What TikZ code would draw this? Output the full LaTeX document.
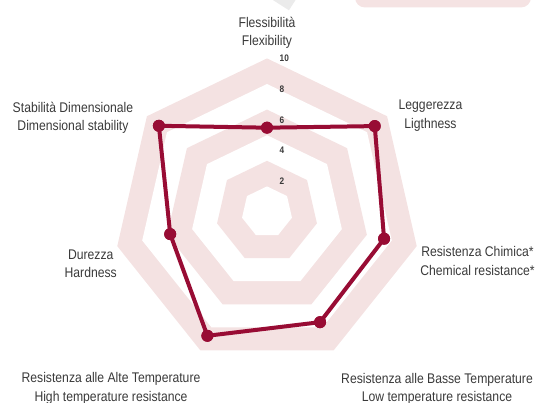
\documentclass[tikz,border=0pt]{standalone}
\usepackage{fontspec}
\setmainfont[FakeStretch=0.87]{Liberation Sans}
\definecolor{datared}{RGB}{152,12,52}
\definecolor{bandpink}{RGB}{244,226,226}
\definecolor{decopink}{RGB}{245,227,227}
\definecolor{txtgray}{RGB}{58,58,58}
\begin{document}
\begin{tikzpicture}[x=1pt,y=1pt,
  axislabel/.style={align=center,text=txtgray,font=\fontsize{14}{18.3}\selectfont,inner sep=0pt},
  ticklabel/.style={anchor=west,text=txtgray,font=\fontsize{9.5}{11}\selectfont\bfseries,inner sep=0pt},
  datadot/.style={circle,fill=datared,minimum size=12pt,inner sep=0pt},
  dataline/.style={draw=datared,line width=4pt,line join=round}]
\useasboundingbox (0,0) rectangle (538,-403);
% decorations at the top edge
\fill[decopink,rounded corners=10pt] (355,12) rectangle (531,-7.5);
\draw[gray!16,line width=15pt] (268,12) -- (293,-4);
% bands
\begin{scope}[shift={(267,-212)}]
\foreach \r/\c in {153.6/bandpink,128/white,102.4/bandpink,76.8/white,51.2/bandpink,25.6/white}{
  \fill[\c] (90:\r) -- (90-360/7:\r) -- (90-720/7:\r) -- (90-1080/7:\r) -- (90-1440/7:\r) -- (90-1800/7:\r) -- (90-2160/7:\r) -- cycle;
}
% data
\node[datadot] (p0) at (90:84.3) {};
\node[datadot] (p1) at (90-360/7:137.8) {};
\node[datadot] (p2) at (90-720/7:120.1) {};
\node[datadot] (p3) at (90-1080/7:122.3) {};
\node[datadot] (p4) at (90-1440/7:137.4) {};
\node[datadot] (p5) at (90-1800/7:99.3) {};
\node[datadot] (p6) at (90-2160/7:138.3) {};
\draw[dataline] (p0.center) -- (p1.center) -- (p2.center) -- (p3.center) -- (p4.center) -- (p5.center) -- (p6.center) -- cycle;
\foreach \i in {0,...,6}{ \fill[datared] (p\i) circle (6pt); }
% tick labels
\node[ticklabel] (t10) at (12.5,153.6) {10};
\node[ticklabel] (t8) at (12.5,122.9) {8};
\node[ticklabel] (t6) at (12.5,92.2) {6};
\node[ticklabel] (t4) at (12.5,61.4) {4};
\node[ticklabel] (t2) at (12.5,30.7) {2};
\end{scope}
% axis labels
\node[axislabel] (lflex) at (267,-32.5) {Flessibilità\\Flexibility};
\node[axislabel] (lleg) at (430.5,-115.5) {Leggerezza\\Ligthness};
\node[axislabel] (lchim) at (477.5,-261) {Resistenza Chimica*\\Chemical resistance*};
\node[axislabel] (lbasse) at (437,-388.7) {Resistenza alle Basse Temperature\\Low temperature resistance};
\node[axislabel] (lalte) at (111,-388.5) {Resistenza alle Alte Temperature\\High temperature resistance};
\node[axislabel] (ldur) at (90.7,-263.5) {Durezza\\Hardness};
\node[axislabel] (lstab) at (73,-118) {Stabilità Dimensionale\\Dimensional stability};
\end{tikzpicture}
\end{document}
